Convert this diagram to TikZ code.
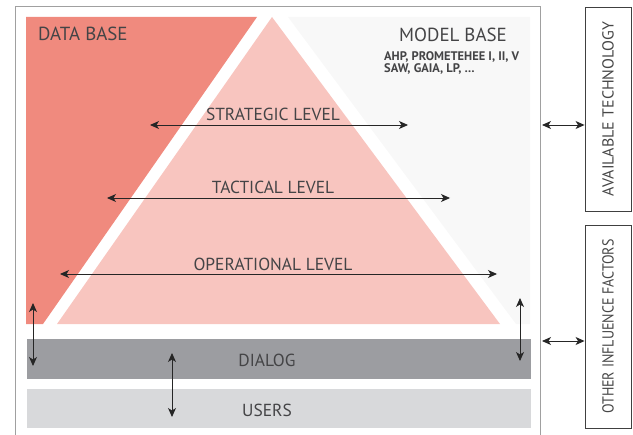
\documentclass[tikz,border=0pt]{standalone}
\usepackage{fontspec}
\setmainfont{PT Sans}
\usetikzlibrary{arrows.meta}

\definecolor{dbred}{HTML}{F08A7E}
\definecolor{pyrpink}{HTML}{F8C5BF}
\definecolor{mbgray}{HTML}{F8F8F8}
\definecolor{dlggray}{HTML}{9C9DA1}
\definecolor{usrgray}{HTML}{D8D9DB}
\definecolor{txtgray}{HTML}{444446}
\definecolor{framegray}{HTML}{A0A0A0}

\begin{document}
\begin{tikzpicture}[x=1bp,y=1bp,
    title/.style={text=txtgray, inner sep=0pt, font=\fontsize{19}{19}\selectfont},
    level/.style={text=txtgray, inner sep=0pt, font=\fontsize{17.5}{17.5}\selectfont},
    methods/.style={text=txtgray, inner sep=0pt, align=left, font=\fontsize{12.5}{12}\selectfont\bfseries},
    bar/.style={minimum width=504bp, inner sep=0pt},
    sidebox/.style={draw=black!75, line width=0.9pt, rotate=90, minimum height=46bp, inner sep=0pt,
        text=black!72, font=\fontsize{16}{16}\selectfont},
    twoway/.style={{Stealth[length=9bp,width=8bp,inset=2.5bp]}-{Stealth[length=9bp,width=8bp,inset=2.5bp]}, line width=0.9pt, draw=black!85}]

            \useasboundingbox (0,0) rectangle (633,-435);

            % frame
            \draw[framegray, line width=1pt] (15,-440) -- (15,-7) -- (540,-7) -- (540,-440);

            % bases and pyramid
            \fill[mbgray] (288,-17) -- (530,-17) -- (530,-324) -- (516,-324) -- cycle;
            \fill[dbred] (26,-17) -- (257,-17) -- (43,-324) -- (26,-324) -- cycle;
            \fill[pyrpink] (272,-17) -- (500,-324) -- (57,-324) -- cycle;

            \node[title, anchor=west] (db) at (38,-34) {DATA BASE};
            \node[title, anchor=west] (mb) at (399,-35) {MODEL BASE};
            \node[methods, anchor=north west] (methods) at (384,-51) {AHP, PROMETEHEE I, II, V\\SAW, GAIA, LP, \dots};

            % levels
            \node[level] (strat) at (273,-114) {STRATEGIC LEVEL};
            \coordinate (stratL) at (150,-125);
            \coordinate (stratR) at (408,-125);
            \draw [twoway] (stratL) -- (stratR);

            \node[level] (tact) at (273,-187) {TACTICAL LEVEL};
            \coordinate (tactL) at (107,-198);
            \coordinate (tactR) at (450,-198);
            \draw [twoway] (tactL) -- (tactR);

            \node[level] (oper) at (273,-264) {OPERATIONAL LEVEL};
            \coordinate (operL) at (60,-274);
            \coordinate (operR) at (497,-274);
            \draw [twoway] (operL) -- (operR);

            % dialog and users
            \node[bar, fill=dlggray, minimum height=40bp] (dialog) at (279,-359) {};
            \node[level] (dlgtxt) at (267,-360) {DIALOG};
            \node[bar, fill=usrgray, minimum height=39bp] (users) at (279,-408.5) {};
            \node[level] (usrtxt) at (267,-410) {USERS};

            \coordinate (dbDown) at (33,-303);
            \coordinate (dlgLeft) at (33,-366);
            \draw [twoway] (dbDown) -- (dlgLeft);
            \coordinate (dlgMid) at (172,-353);
            \coordinate (usrMid) at (172,-417);
            \draw [twoway] (dlgMid) -- (usrMid);
            \coordinate (mbDown) at (520,-298);
            \coordinate (dlgRight) at (520,-361);
            \draw [twoway] (mbDown) -- (dlgRight);

            % outside factors
            \node[sidebox, minimum width=204bp] (tech) at (608,-109) {AVAILABLE TECHNOLOGY};
            \node[sidebox, minimum width=203bp] (other) at (608,-326.5) {\addfontfeatures{FakeStretch=0.88}OTHER INFLUENCE FACTORS};
            \coordinate (techArr) at (542,-125);
            \draw [twoway] (techArr) -- (tech.north |- techArr);
            \coordinate (otherArr) at (542,-341);
            \draw [twoway] (otherArr) -- (other.north |- otherArr);

\end{tikzpicture}
\end{document}
